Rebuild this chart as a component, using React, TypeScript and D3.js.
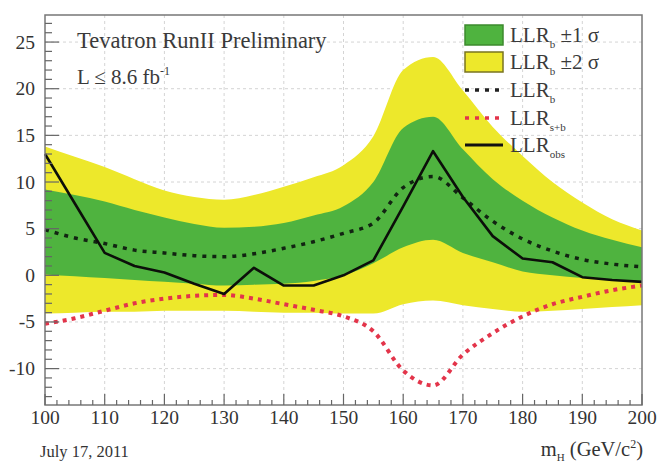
import React from "react";
import * as d3 from "d3";

const masses = [100, 105, 110, 115, 120, 125, 130, 135, 140, 145, 150, 155, 160, 165, 170, 175, 180, 185, 190, 195, 200];
const llrObs = [13.0, 7.7, 2.4, 1.0, 0.3, -0.9, -2.0, 0.8, -1.1, -1.1, 0.0, 1.6, 7.4, 13.3, 8.4, 4.2, 1.8, 1.4, -0.2, -0.5, -0.7];
const llrB = [4.9, 4.0, 3.4, 2.7, 2.4, 2.1, 2.0, 2.3, 2.9, 3.6, 4.5, 5.6, 9.4, 10.6, 8.3, 5.8, 3.9, 2.6, 1.7, 1.2, 0.9];
const llrSB = [-5.2, -4.6, -3.8, -3.0, -2.5, -2.2, -2.1, -2.5, -3.1, -3.7, -4.4, -6.0, -10.2, -11.8, -8.5, -6.2, -4.4, -3.1, -2.3, -1.6, -1.1];
const sig1Up = [9.2, 8.6, 7.9, 7.0, 6.2, 5.5, 5.1, 5.2, 5.6, 6.4, 7.4, 10.0, 15.8, 17.0, 13.5, 10.3, 8.0, 6.2, 4.8, 3.8, 3.0];
const sig1Dn = [0.1, -0.1, -0.3, -0.5, -0.7, -0.9, -1.1, -1.0, -0.9, -0.6, 0.0, 1.3, 3.0, 3.8, 2.4, 1.4, 0.4, 0.0, -0.3, -0.5, -0.7];
const sig2Up = [13.8, 12.7, 11.6, 10.3, 9.1, 8.4, 8.1, 8.6, 9.5, 10.5, 11.8, 14.9, 22.0, 23.4, 19.8, 15.9, 12.8, 10.0, 7.8, 6.0, 4.8];
const sig2Dn = [-4.1, -4.0, -3.9, -3.9, -3.8, -3.8, -3.8, -3.9, -4.0, -4.0, -4.1, -4.1, -3.1, -2.7, -3.2, -3.6, -3.9, -3.8, -3.6, -3.4, -3.2];

const xTicks = [100, 110, 120, 130, 140, 150, 160, 170, 180, 190, 200];
const yTicks = [-10, -5, 0, 5, 10, 15, 20, 25];

const W = 657, H = 468;
const L = 45, R = 642, T = 15, B = 405;

const GREEN = "#4fb33f";
const YELLOW = "#ede82b";
const FONT = "'Liberation Serif', 'DejaVu Serif', serif";
const TXT = "#333";

export default function App() {
  const x = d3.scaleLinear().domain([100, 200]).range([L, R]);
  const y = d3.scaleLinear().domain([-13.9, 27.9]).range([B, T]);

  const idx = masses.map((_, i) => i);
  const band = (up: number[], dn: number[]) =>
    d3.area<number>().x(i => x(masses[i])).y0(i => y(dn[i])).y1(i => y(up[i])).curve(d3.curveMonotoneX)(idx) || "";
  const line = (v: number[], curve: d3.CurveFactory) =>
    d3.line<number>().x(i => x(masses[i])).y(i => y(v[i])).curve(curve)(idx) || "";

  const xMinor = d3.range(100, 201, 2);
  const yMinor = d3.range(-13, 28, 1);

  const legX = 465, legW = 38, legTextX = 510;
  const rows = [35, 62, 90, 118, 145];

  return (
    <svg width={W} height={H} style={{ position: "absolute", left: 0, top: 0, background: "#fff" }} fontFamily={FONT}>
      <rect x={0} y={0} width={W} height={H} fill="#fff" />
      {xTicks.slice(1, -1).map(t => (
        <line key={"gx" + t} x1={x(t)} x2={x(t)} y1={T} y2={B} stroke="#d4d4d4" strokeWidth={1} strokeDasharray="3 3" />
      ))}
      {yTicks.map(t => (
        <line key={"gy" + t} x1={L} x2={R} y1={y(t)} y2={y(t)} stroke="#d4d4d4" strokeWidth={1} strokeDasharray="3 3" />
      ))}
      <path d={band(sig2Up, sig2Dn)} fill={YELLOW} />
      <path d={band(sig1Up, sig1Dn)} fill={GREEN} />
      <path d={line(llrSB, d3.curveMonotoneX)} fill="none" stroke="#e3344a" strokeWidth={4} strokeDasharray="4 5" />
      <path d={line(llrB, d3.curveMonotoneX)} fill="none" stroke="#122412" strokeWidth={3.5} strokeDasharray="4 6" />
      <path d={line(llrObs, d3.curveLinear)} fill="none" stroke="#0c0f0a" strokeWidth={2.6} strokeLinejoin="round" />
      <rect x={L} y={T} width={R - L} height={B - T} fill="none" stroke="#777" strokeWidth={1.5} />
      {xMinor.map(t => (
        <line key={"xm" + t} x1={x(t)} x2={x(t)} y1={B} y2={B - (t % 10 === 0 ? 11 : 5)} stroke="#666" strokeWidth={1.2} />
      ))}
      {yMinor.map(t => (
        <line key={"ym" + t} x1={L} x2={L + (t % 5 === 0 ? 14 : 7)} y1={y(t)} y2={y(t)} stroke="#666" strokeWidth={1.2} />
      ))}
      {xTicks.map(t => (
        <text key={"xl" + t} x={x(t)} y={424} textAnchor="middle" fontSize={19.5} fill={TXT}>{t}</text>
      ))}
      {yTicks.map(t => (
        <text key={"yl" + t} x={35} y={y(t) + 6.5} textAnchor="end" fontSize={19.5} fill={TXT}>{t}</text>
      ))}
      <text x={77} y={48} fontSize={22.5} fill="#3a3a3a">Tevatron RunII Preliminary</text>
      <text x={77} y={84} fontSize={21} fill="#3a3a3a">
        L ≤ 8.6 fb<tspan dy={-9} fontSize={12}>-1</tspan>
      </text>
      <text x={40} y={457} fontSize={16.5} fill={TXT}>July 17, 2011</text>
      <text x={643} y={456} fontSize={20.5} fill={TXT} textAnchor="end">
        m<tspan dy={5} fontSize={11}>H</tspan><tspan dy={-5}> (GeV/c</tspan><tspan dy={-8} fontSize={12}>2</tspan><tspan dy={8}>)</tspan>
      </text>
      <rect x={legX} y={rows[0] - 10} width={legW} height={20} fill={GREEN} stroke="#3d8a2e" strokeWidth={1.5} />
      <rect x={legX} y={rows[1] - 10} width={legW} height={20} fill={YELLOW} stroke="#7a7420" strokeWidth={1.5} />
      <line x1={legX} x2={legX + legW} y1={rows[2]} y2={rows[2]} stroke="#222" strokeWidth={3.5} strokeDasharray="4 6" />
      <line x1={legX} x2={legX + legW} y1={rows[3]} y2={rows[3]} stroke="#e3344a" strokeWidth={3.5} strokeDasharray="4 6" />
      <line x1={legX} x2={legX + legW} y1={rows[4]} y2={rows[4]} stroke="#111" strokeWidth={3} />
      {[
        { sub: "b", tail: " ±1 σ" },
        { sub: "b", tail: " ±2 σ" },
        { sub: "b", tail: "" },
        { sub: "s+b", tail: "" },
        { sub: "obs", tail: "" },
      ].map((r, i) => (
        <text key={"lg" + i} x={legTextX} y={rows[i] + 6.5} fontSize={21} fill="#3a3a3a">
          LLR<tspan dy={6} fontSize={11}>{r.sub}</tspan>
          {r.tail ? <tspan dy={-6}>{r.tail}</tspan> : null}
        </text>
      ))}
    </svg>
  );
}
